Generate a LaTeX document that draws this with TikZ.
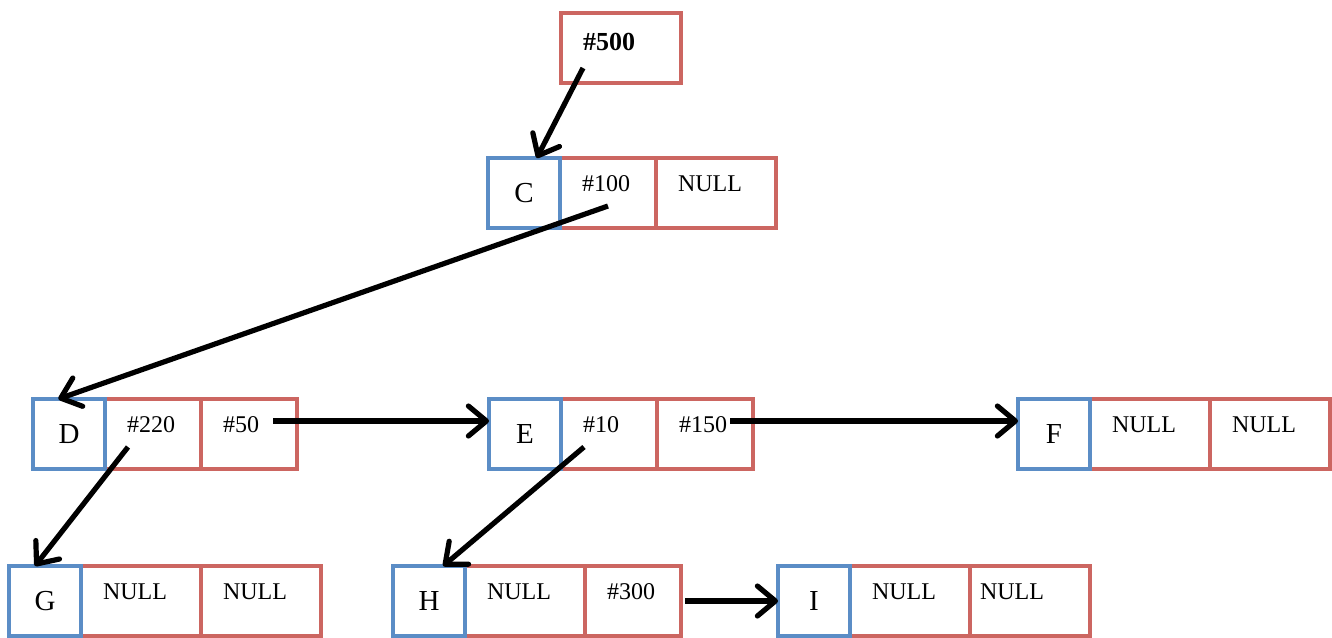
\documentclass[tikz,border=0pt]{standalone}
\usepackage{fontspec}
\setmainfont{Liberation Serif}
\usepackage{tikz}
\usetikzlibrary{positioning, arrows.meta}
\definecolor{keyblue}{RGB}{91,141,198}
\definecolor{ptrred}{RGB}{204,102,97}
\tikzset{cell/.style = {draw, line width=2pt, outer sep=0pt, inner sep=0pt, minimum height=35pt},
         key/.style = {cell, draw=keyblue, minimum width=36pt, font=\fontsize{14.5}{16}\selectfont},
         ptr/.style = {cell, draw=ptrred, inner xsep=11pt, align=left, text height=9pt, text depth=11pt, font=\fontsize{12}{14}\selectfont},
         narrow/.style = {ptr, text width=26pt},
         wide/.style = {ptr, text width=38pt},
         link/.style = {line width=2.6pt, -{Straight Barb[length=9pt,width=15pt,round]}}}

\begin{document}
\begin{tikzpicture}[x=0.5pt, y=-0.5pt]
        \useasboundingbox (0,0) rectangle (1332,637);
        \node [wide, font=\fontsize{13}{15}\selectfont\bfseries, text depth=7pt, anchor=west] (root) at (561,48) {\#500};

        \node [narrow, anchor=west] (Cl) at (560,193) {\#100};
        \node [wide, right=0pt of Cl] (Cr) {NULL};
        \node [key, left=0pt of Cl] (Ck) {C};

        \node [narrow, anchor=west] (Dl) at (105,434) {\#220};
        \node [narrow, right=0pt of Dl] (Dr) {\#50};
        \node [key, left=0pt of Dl] (Dk) {D};

        \node [narrow, anchor=west] (El) at (561,434) {\#10};
        \node [narrow, right=0pt of El] (Er) {\#150};
        \node [key, left=0pt of El] (Ek) {E};

        \node [wide, anchor=west] (Fl) at (1090,434) {NULL};
        \node [wide, right=0pt of Fl] (Fr) {NULL};
        \node [key, left=0pt of Fl] (Fk) {F};

        \node [wide, anchor=west] (Gl) at (81,601) {NULL};
        \node [wide, right=0pt of Gl] (Gr) {NULL};
        \node [key, left=0pt of Gl] (Gk) {G};

        \node [wide, anchor=west] (Hl) at (465,601) {NULL};
        \node [narrow, right=0pt of Hl] (Hr) {\#300};
        \node [key, left=0pt of Hl] (Hk) {H};

        \node [wide, anchor=west] (Il) at (850,601) {NULL};
        \node [wide, inner xsep=5pt, text width=50pt, right=0pt of Il] (Ir) {NULL};
        \node [key, left=0pt of Il] (Ik) {I};

        \draw [link] ([shift={(22,-15)}]root.south west) -- (Ck.70);
        \draw [link] ([shift={(0,13)}]Cl.center) -- (Dk.107);
        \draw [link] ([shift={(-25,13)}]Dl.center) -- (Gk.106);
        \draw [link] ([shift={(24,-13)}]Dr.center) -- ([shift={(0,-13)}]Ek.west);
        \draw [link] ([shift={(-25,13)}]El.center) -- (Hk.68);
        \draw [link] ([shift={(25,-13)}]Er.center) -- ([shift={(0,-13)}]Fk.west);
        \draw [link] ([xshift=2pt]Hr.east) -- (Ik.west);
\end{tikzpicture}
\end{document}
